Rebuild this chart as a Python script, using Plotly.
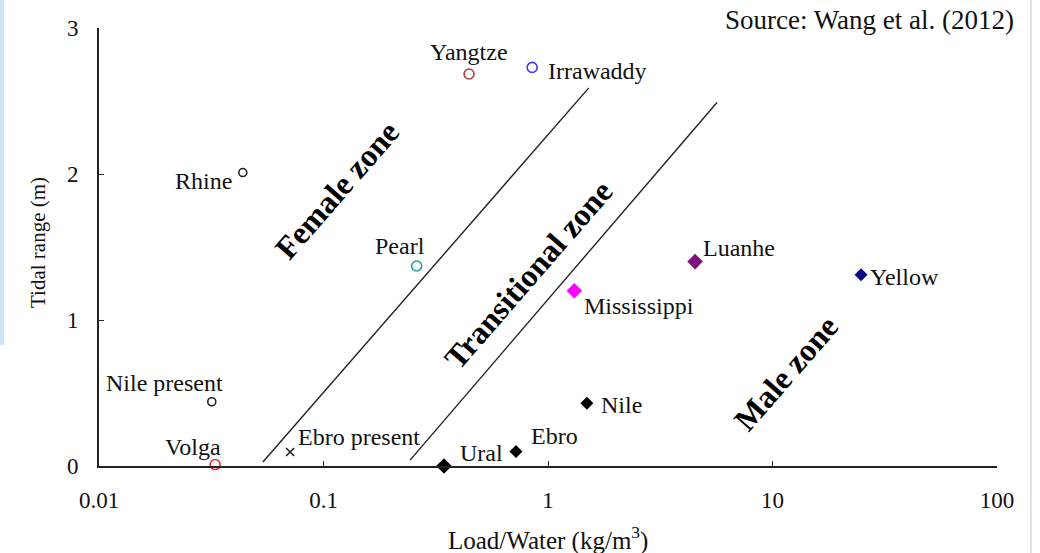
import math
import plotly.graph_objects as go

# ---- data ----
rivers = ["Yangtze", "Irrawaddy", "Rhine", "Pearl", "Nile present", "Volga",
          "Ebro present", "Ural", "Ebro", "Nile", "Mississippi", "Luanhe", "Yellow"]
load_water = [0.445, 0.85, 0.0437, 0.26, 0.0318, 0.0329,
              0.071, 0.344, 0.72, 1.49, 1.31, 4.52, 24.8]
tidal_range = [2.685, 2.73, 2.01, 1.37, 0.44, 0.01,
               0.096, 0.0, 0.1, 0.43, 1.2, 1.40, 1.31]
symbols = ["circle-open", "circle-open", "circle-open", "circle-open", "circle-open", "circle-open",
           "x-thin", "diamond", "diamond", "diamond", "diamond", "diamond", "diamond"]
colors = ["#b23a3a", "#3b3bff", "#222222", "#2a9a9a", "#222222", "#ee2a2a",
          "#222222", "#000000", "#000000", "#000000", "#ff00ff", "#7f0f7f", "#0a0a80"]
sizes = [10, 10, 8, 10, 8, 10, 8, 12, 10, 10, 12, 12, 10]
# label offsets (px) relative to marker, and anchor
label_pos = {
    "Yangtze": (0, 22, "center"), "Irrawaddy": (14, -4, "left"), "Rhine": (-9, -8, "right"),
    "Pearl": (-17, 20, "center"), "Nile present": (-47, 19, "center"), "Volga": (-22, 18, "center"),
    "Ebro present": (6, 15, "left"), "Ural": (14, 13, "left"), "Ebro": (13, 15, "left"),
    "Nile": (12, -2, "left"), "Mississippi": (8, -15, "left"), "Luanhe": (6, 14, "left"),
    "Yellow": (7, -2, "left"),
}

# zone boundary lines
line1_x = [0.0537, 1.52]
line1_y = [0.027, 2.59]
line2_x = [0.243, 5.66]
line2_y = [0.04, 2.49]

x_ticks = [0.01, 0.1, 1, 10, 100]
x_tick_labels = ["0.01", "0.1", "1", "10", "100"]
y_ticks = [0, 1, 2, 3]

FONT = "Liberation Serif, Times New Roman, serif"
LBL = 24

fig = go.Figure()
for lx, ly in ((line1_x, line1_y), (line2_x, line2_y)):
    fig.add_trace(go.Scatter(x=lx, y=ly, mode="lines",
                             line=dict(color="#222222", width=1.4),
                             hoverinfo="skip", showlegend=False))

for i, name in enumerate(rivers):
    sym = symbols[i]
    mk = dict(symbol=sym, size=sizes[i], color=colors[i])
    if sym.endswith("open") or sym.startswith("x"):
        mk["line"] = dict(color=colors[i], width=1.6)
    else:
        mk["line"] = dict(width=0)
    fig.add_trace(go.Scatter(x=[load_water[i]], y=[tidal_range[i]], mode="markers",
                             marker=mk, name=name, showlegend=False, cliponaxis=False))
    dx, dy, anc = label_pos[name]
    fig.add_annotation(x=math.log10(load_water[i]), y=tidal_range[i],
                       xref="x", yref="y", text=name, showarrow=False,
                       xanchor=anc, yanchor="middle", xshift=dx, yshift=dy,
                       font=dict(family=FONT, size=LBL, color="#111111"))

# zone labels
W, H, ML, MT = 898, 438, 99, 28
def px(xp):
    return (xp - ML) / W
def py(yp):
    return (MT + H - yp) / H

zones = [("Female zone", 337, 190), ("Transitional zone", 528, 275), ("Male zone", 786, 373)]
for txt, cx, cy in zones:
    fig.add_annotation(x=px(cx), y=py(cy), xref="paper", yref="paper", text="<b>%s</b>" % txt,
                       showarrow=False, textangle=-49, xanchor="center", yanchor="middle",
                       font=dict(family=FONT, size=32, color="#000000"))

fig.add_annotation(x=px(1016), y=py(20), xref="paper", yref="paper",
                   text="Source: Wang et al. (2012)", showarrow=False,
                   xanchor="right", yanchor="middle",
                   font=dict(family=FONT, size=27, color="#111111"))
fig.add_annotation(x=px(548), y=py(538), xref="paper", yref="paper",
                   text="Load/Water (kg/m<sup>3</sup>)", showarrow=False,
                   xanchor="center", yanchor="middle",
                   font=dict(family=FONT, size=25, color="#111111"))
fig.add_annotation(x=px(38), y=py(243), xref="paper", yref="paper",
                   text="Tidal range (m)", showarrow=False, textangle=-90,
                   xanchor="center", yanchor="middle",
                   font=dict(family=FONT, size=21, color="#111111"))

# screenshot edge artefacts
fig.add_shape(type="rect", xref="paper", yref="paper", x0=px(0), x1=px(4), y0=py(345), y1=py(0),
              fillcolor="#cfe6f7", line=dict(width=0), layer="below")
fig.add_shape(type="line", xref="paper", yref="paper", x0=px(1031), x1=px(1031), y0=py(553), y1=py(0),
              line=dict(color="#d0d0d0", width=1.2))

fig.update_layout(
    width=1040, height=553,
    margin=dict(l=ML, r=1040 - ML - W, t=MT, b=553 - MT - H),
    paper_bgcolor="white", plot_bgcolor="white",
    font=dict(family=FONT, size=23, color="#111111"),
    showlegend=False,
)
fig.update_xaxes(type="log", range=[-2, 2], tickvals=x_ticks, ticktext=x_tick_labels,
                 showgrid=False, zeroline=False, showline=True, linecolor="#222222", linewidth=1.6,
                 ticks="inside", ticklen=5, tickcolor="#222222", ticklabelstandoff=13,
                 tickfont=dict(family=FONT, size=23, color="#111111"))
fig.update_yaxes(range=[0, 3], tickvals=y_ticks, showgrid=False, zeroline=False,
                 showline=True, linecolor="#222222", linewidth=1.6,
                 ticks="inside", ticklen=5, tickcolor="#222222", ticklabelstandoff=14,
                 tickfont=dict(family=FONT, size=23, color="#111111"))

fig.write_html("out.html")
